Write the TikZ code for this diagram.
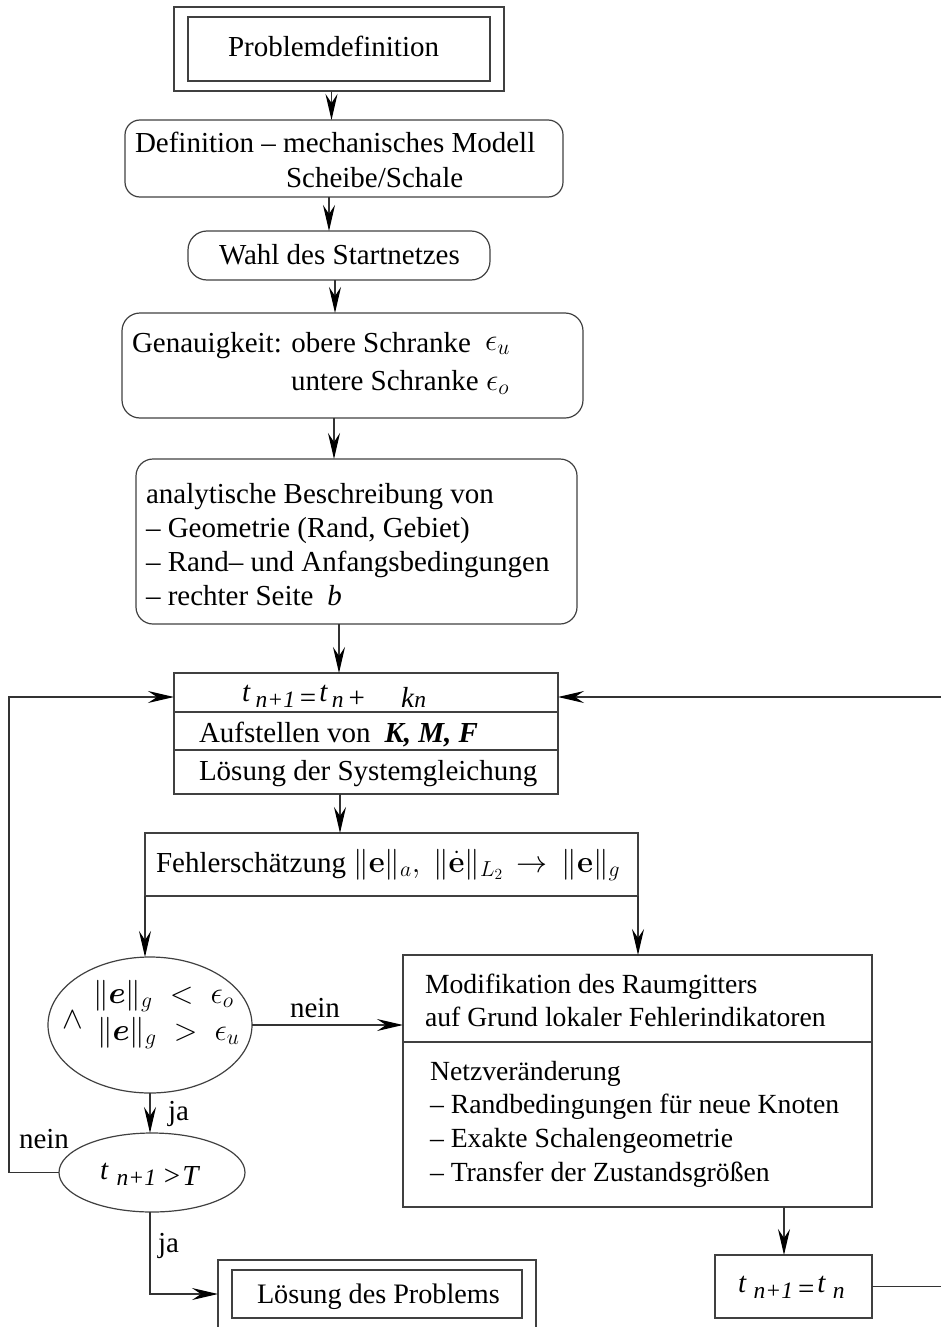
\RequirePackage{fix-cm}
\documentclass[tikz,border=0pt]{standalone}
\usepackage{amsmath,bm}
\usepackage[no-math]{fontspec}
\setmainfont{Liberation Serif}
\usetikzlibrary{arrows.meta,calc,fit,shapes.geometric}
\newcommand\mainsize{\fontsize{29}{34}\selectfont}
\newcommand\modsize{\fontsize{27.7}{34}\selectfont}
\newcommand\mathsize{\fontsize{31}{34}\selectfont}
\newcommand\smallit[1]{{\fontsize{23.5}{24}\selectfont\itshape #1}}
\newcommand\traised{\raisebox{5.5pt}{\textit{t}}}
\tikzset{
  box/.style={draw=black!75, line width=1.2pt, inner sep=0pt, outer sep=0pt},
  rbox/.style={box, rounded corners=15pt},
  oval/.style={box, ellipse},
  txt/.style={anchor=base west, inner sep=0pt, outer sep=0pt, font=\mainsize},
  modtxt/.style={txt, font=\modsize},
  mtxt/.style={txt, font=\mathsize},
  ln/.style={draw=black!80, line width=1.2pt},
  arr/.style={ln, -{Stealth[length=26pt,width=12pt,inset=9pt,color=black]}},
}
\begin{document}
\begin{tikzpicture}[x=1pt,y=-1pt]
\useasboundingbox (0,0) rectangle (940,1327);
% boxes
\node[box, minimum width=302, minimum height=64] (pin) at (339,49) {};
\node[box, fit=(pin), inner xsep=14, inner ysep=10] (pout) {};
\node[rbox, minimum width=438, minimum height=77] (b2) at (344,158.5) {};
\node[rbox, rounded corners=19pt, minimum width=302, minimum height=49] (b3) at (339,255.5) {};
\node[rbox, rounded corners=18pt, minimum width=461, minimum height=105] (b4) at (352.5,365.5) {};
\node[rbox, rounded corners=17pt, minimum width=441, minimum height=165] (b5) at (356.5,541.5) {};
\node[box, minimum width=384, minimum height=121] (sys) at (366,733.5) {};
\draw[box] ($(sys.north west)+(0,39)$) -- ($(sys.north east)+(0,39)$);
\draw[box] ($(sys.north west)+(0,77)$) -- ($(sys.north east)+(0,77)$);
\node[box, minimum width=493, minimum height=63] (fe) at (391.5,864.5) {};
\node[oval, minimum width=204, minimum height=136] (e1) at (150,1025) {};
\node[oval, minimum width=186, minimum height=79] (e2) at (152,1172.5) {};
\node[box, minimum width=469, minimum height=252] (mod) at (637.5,1081) {};
\draw[box] ($(mod.north west)+(0,87)$) -- ($(mod.north east)+(0,87)$);
\node[box, minimum width=157, minimum height=63] (tb) at (793.5,1286.5) {};
\node[box, minimum width=290, minimum height=48] (lin) at (377,1294) {};
\node[box, fit=(lin), inner xsep=14, inner ysep=10] (lout) {};
% texts
\node[txt] at (228,57) {Problemdefinition};
\node[txt] at (135,153) {Definition – mechanisches Modell};
\node[txt] at (286,187) {Scheibe/Schale};
\node[txt] at (219,264) {Wahl des Startnetzes};
\node[txt] at (132,352) {Genauigkeit: obere Schranke};
\node[mtxt] at (485,350) {$\epsilon_u$};
\node[txt] at (291,390) {untere Schranke};
\node[mtxt] at (486,390) {$\epsilon_o$};
\node[txt] at (146,503) {analytische Beschreibung von};
\node[txt] at (146,537) {– Geometrie (Rand, Gebiet)};
\node[txt] at (146,571) {– Rand– und Anfangsbedingungen};
\node[txt] at (146,605) {– rechter Seite\hspace{14pt}\textit{b}};
\node[txt] at (242,707) {\traised\hspace{5pt}\smallit{n+1}\hspace{5pt}=\hspace{3pt}\traised\hspace{4pt}\smallit{n}\hspace{5pt}+\hspace{36pt}\textit{k}\smallit{n}};
\node[txt] at (199,742) {Aufstellen von\hspace{14pt}\textbf{\textit{K, M, F}}};
\node[txt] at (199,780) {Lösung der Systemgleichung};
\node[txt] at (156,872) {Fehlerschätzung {\mathsize$\|\mathbf{e}\|_a,\ \|\dot{\mathbf{e}}\|_{L_2}\,\rightarrow\,\|\mathbf{e}\|_g$}};
\node[mtxt] at (93,1003) {$\|\bm{e}\|_g\;<\;\epsilon_o$};
\node[mtxt] at (62,1028) {$\wedge$};
\node[mtxt] at (97,1040) {$\|\bm{e}\|_g\;>\;\epsilon_u$};
\node[txt] at (100,1185) {\traised\hspace{8pt}\smallit{n+1}\hspace{8pt}>\hspace{2pt}\textit{T}};
\node[modtxt] at (425,993) {Modifikation des Raumgitters};
\node[modtxt] at (425,1026) {auf Grund lokaler Fehlerindikatoren};
\node[modtxt] at (430,1080) {Netzveränderung};
\node[modtxt] at (430,1113) {– Randbedingungen für neue Knoten};
\node[modtxt] at (430,1147) {– Exakte Schalengeometrie};
\node[modtxt] at (430,1181) {– Transfer der Zustandsgrößen};
\node[txt] at (738,1298) {\traised\hspace{7pt}\smallit{n+1}\hspace{5pt}=\hspace{3pt}\traised\hspace{7pt}\smallit{n}};
\node[txt, font=\fontsize{28.2}{34}\selectfont] at (257,1303) {Lösung des Problems};
\node[txt] at (290,1017) {nein};
\node[txt] at (168,1120) {ja};
\node[txt] at (19,1148) {nein};
\node[txt] at (158,1252) {ja};
% connectors
\coordinate (a1) at ([xshift=-7.5pt]pout.south);
\draw[arr] (a1) -- (a1 |- b2.north);
\coordinate (a2) at ([xshift=-15pt]b2.south);
\draw[arr] (a2) -- (a2 |- b3.north);
\coordinate (a3) at ([xshift=-4pt]b3.south);
\draw[arr] (a3) -- (a3 |- b4.north);
\coordinate (a4) at ([xshift=-18.5pt]b4.south);
\draw[arr] (a4) -- (a4 |- b5.north);
\coordinate (a5) at ([xshift=-17.5pt]b5.south);
\draw[arr] (a5) -- (a5 |- sys.north);
\coordinate (a6) at ([xshift=-26pt]sys.south);
\draw[arr] (a6) -- (a6 |- fe.north);
\draw[arr] (fe.south west) -- (fe.south west |- e1.north);
\draw[arr] (fe.south east) -- (fe.south east |- mod.north);
\draw[arr] (e1.east) -- (e1.east -| mod.west);
\draw[arr] (e1.south) -- (e1.south |- e2.north);
\coordinate (m1) at ([xshift=146.5pt]mod.south);
\draw[arr] (m1) -- (m1 |- tb.north);
\coordinate (sysl) at ($(sys.north west)+(0,24)$);
\coordinate (sysr) at ($(sys.north east)+(0,24)$);
\coordinate (L) at (9,0);
\coordinate (R) at (942,0);
\draw[arr] (e2.west) -| (L |- sysl) -- (sysl);
\draw[arr] (tb.east) -| (R |- sysr) -- (sysr);
\coordinate (e2s) at ([xshift=-2pt]e2.south);
\draw[arr] (e2s) |- (lout.west);
\end{tikzpicture}
\end{document}
